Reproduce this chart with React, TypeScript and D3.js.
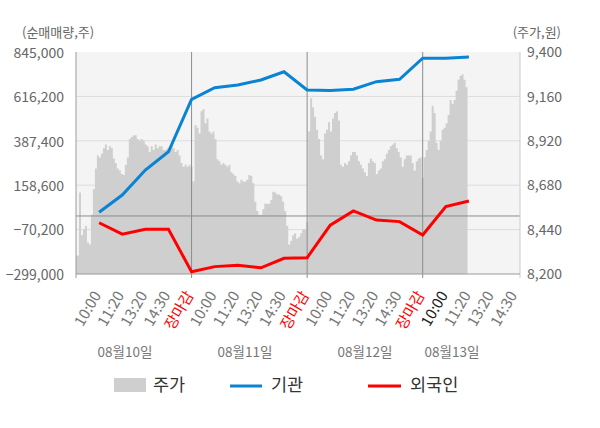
import { useEffect, useRef } from 'react';
import * as d3 from 'd3';

// x-axis tick labels (one per line point slot)
const timeLabels = [
  '10:00', '11:20', '13:20', '14:30', '장마감',
  '10:00', '11:20', '13:20', '14:30', '장마감',
  '10:00', '11:20', '13:20', '14:30', '장마감',
  '10:00', '11:20', '13:20', '14:30',
];
const dayLabels = ['08월10일', '08월11일', '08월12일', '08월13일'];

const leftTicks = [845000, 616200, 387400, 158600, -70200, -299000];
const rightTicks = [9400, 9160, 8920, 8680, 8440, 8200];

// net buying (shares), one value per slot 1..17
const institution = [
  19000, 108000, 237000, 331000, 601000,
  661000, 675000, 701000, 743000, 649000,
  647000, 653000, 692000, 704000, 813000,
  813000, 819000,
];
const foreign = [
  -35000, -94000, -69000, -69000, -287000,
  -261000, -254000, -267000, -218000, -215000,
  -47000, 26000, -21000, -29000, -98000,
  48000, 77000,
];

// intraday price (won)
const priceDay1 = [
  8300, 8640, 8410, 8440, 8460, 8370, 8360, 8520, 8660, 8770,
  8840, 8830, 8850, 8880, 8900, 8870, 8890, 8880, 8825, 8800,
  8770, 8760, 8740, 8735, 8790, 8830, 8930, 8940, 8950, 8950,
  8930, 8920, 8930, 8920, 8900, 8890, 8860, 8890, 8870, 8900,
  8880, 8890, 8890, 8870, 8870, 8880, 8870, 8890, 8880, 8860,
  8870, 8840, 8800, 8780, 8790, 8780, 8790, 8780,
];
const priceDay2 = [
  8700, 9005, 8990, 8960, 9080, 9090, 9015, 9040, 8970, 8960,
  8970, 8930, 8820, 8810, 8790, 8800, 8790, 8780, 8790, 8750,
  8740, 8730, 8700, 8690, 8710, 8700, 8700, 8710, 8735, 8730,
  8690, 8590, 8540, 8520, 8520, 8550, 8580, 8580, 8580, 8600,
  8645, 8640, 8630, 8630, 8620, 8590, 8540, 8460, 8360, 8380,
  8410, 8420, 8390, 8400, 8420, 8440, 8440, 8480,
];
const priceDay3 = [
  8970, 9150, 9100, 9050, 8980, 8930, 8840, 8820, 8960, 8980,
  9020, 8970, 9040, 9070, 9080, 9030, 8790, 8780, 8800, 8790,
  8810, 8840, 8860, 8860, 8840, 8810, 8790, 8770, 8750, 8730,
  8800, 8825, 8810, 8800, 8740, 8760, 8770, 8810, 8820, 8850,
  8870, 8890, 8900, 8910, 8880, 8860, 8830, 8780, 8820, 8840,
  8840, 8840, 8800, 8760, 8810, 8825, 8830, 8720,
];
const priceDay4 = [
  8830, 8870, 8920, 8970, 9110, 9070, 8910, 8870, 8920, 8980,
  8990, 9015, 9060, 9140, 9120, 9140, 9190, 9250, 9270, 9280,
  9250, 9210,
];

const SAMPLES_PER_DAY = 58;
const SLOTS_PER_DAY = 5;

const App = () => {
  const svgRef = useRef<SVGSVGElement | null>(null);

  useEffect(() => {
    const width = 600;
    const height = 428;
    const left = 76;
    const right = 520;
    const top = 52;
    const bottom = 274;
    const font = '"Noto Sans CJK KR", "Noto Sans", sans-serif';

    const svg = d3.select(svgRef.current);
    svg.selectAll('*').remove();
    svg.attr('width', width).attr('height', height);

    svg.append('rect').attr('width', width).attr('height', height).attr('fill', '#fff');

    const x = d3.scaleLinear().domain([0, 15]).range([left, 422.7]);
    const yL = d3.scaleLinear().domain([-299000, 845000]).range([bottom, top]);
    const yR = d3.scaleLinear().domain([8200, 9400]).range([bottom, top]);

    // plot background
    svg.append('rect')
      .attr('x', left).attr('y', top)
      .attr('width', right - left).attr('height', bottom - top)
      .attr('fill', '#f4f4f4');

    // gridlines
    svg.append('g')
      .selectAll('line')
      .data(leftTicks.slice(1, -1))
      .enter()
      .append('line')
      .attr('x1', left).attr('x2', right)
      .attr('y1', d => yL(d)).attr('y2', d => yL(d))
      .attr('stroke', '#dcdcdc')
      .attr('stroke-width', 1);

    // price area
    const days = [priceDay1, priceDay2, priceDay3, priceDay4];
    const pricePoints: { s: number; v: number }[] = [];
    days.forEach((arr, di) => {
      arr.forEach((v, j) => {
        pricePoints.push({ s: di * SLOTS_PER_DAY + (j + 0.5) * SLOTS_PER_DAY / SAMPLES_PER_DAY, v });
      });
    });
    const area = d3.area<{ s: number; v: number }>()
      .x(d => x(d.s))
      .y0(bottom)
      .y1(d => yR(d.v))
      .curve(d3.curveStepAfter);
    const last = pricePoints[pricePoints.length - 1];
    const areaData = [{ s: 0, v: pricePoints[0].v }, ...pricePoints, { s: last.s + SLOTS_PER_DAY / SAMPLES_PER_DAY, v: last.v }];
    svg.append('path')
      .attr('d', area(areaData) as string)
      .attr('fill', '#cfcfcf');

    // day separators
    [5, 10, 15].forEach(s => {
      svg.append('line')
        .attr('x1', x(s)).attr('x2', x(s))
        .attr('y1', top).attr('y2', bottom + 4)
        .attr('stroke', '#8c8c8c').attr('stroke-width', 1);
    });

    // zero line
    svg.append('line')
      .attr('x1', left).attr('x2', right)
      .attr('y1', yL(0)).attr('y2', yL(0))
      .attr('stroke', '#8c8c8c').attr('stroke-width', 1);

    // axes lines
    svg.append('line')
      .attr('x1', left).attr('x2', left).attr('y1', top).attr('y2', bottom + 4)
      .attr('stroke', '#9a9a9a');
    svg.append('line')
      .attr('x1', right).attr('x2', right).attr('y1', top).attr('y2', bottom + 4)
      .attr('stroke', '#cccccc');
    svg.append('line')
      .attr('x1', left).attr('x2', right).attr('y1', bottom).attr('y2', bottom)
      .attr('stroke', '#9a9a9a');

    // lines
    const line = d3.line<number>()
      .x((_, i) => x(i + 1))
      .y(d => yL(d));
    svg.append('path')
      .attr('d', line(institution) as string)
      .attr('fill', 'none')
      .attr('stroke', '#0a84d2')
      .attr('stroke-width', 3);
    svg.append('path')
      .attr('d', line(foreign) as string)
      .attr('fill', 'none')
      .attr('stroke', '#ff0000')
      .attr('stroke-width', 3);

    // left tick labels
    svg.append('g')
      .selectAll('text')
      .data(leftTicks)
      .enter()
      .append('text')
      .attr('x', 64)
      .attr('y', d => yL(d) + 2)
      .attr('text-anchor', 'end')
      .attr('dominant-baseline', 'middle')
      .style('font-family', font)
      .style('font-size', '14px')
      .style('fill', '#666')
      .text(d => d3.format(',')(d));

    // right tick labels
    svg.append('g')
      .selectAll('text')
      .data(rightTicks)
      .enter()
      .append('text')
      .attr('x', 527)
      .attr('y', d => yR(d) + 1.5)
      .attr('text-anchor', 'start')
      .attr('dominant-baseline', 'middle')
      .style('font-family', font)
      .style('font-size', '14px')
      .style('fill', '#666')
      .text(d => d3.format(',')(d));

    // axis titles
    svg.append('text')
      .attr('x', 22).attr('y', 33)
      .attr('dominant-baseline', 'middle')
      .style('font-family', font).style('font-size', '13px').style('fill', '#666')
      .text('(순매매량,주)');
    svg.append('text')
      .attr('x', 561).attr('y', 33)
      .attr('text-anchor', 'end')
      .attr('dominant-baseline', 'middle')
      .style('font-family', font).style('font-size', '13px').style('fill', '#666')
      .text('(주가,원)');

    // time labels
    svg.append('g')
      .selectAll('text')
      .data(timeLabels)
      .enter()
      .append('text')
      .attr('transform', (_, i) => `translate(${x(i + 1) + 2.5}, 295) rotate(-60)`)
      .attr('text-anchor', 'end')
      .style('font-family', font)
      .style('font-size', '15px')
      .style('fill', (d, i) => (d === '장마감' ? '#ff0000' : i === 15 ? '#222' : '#777'))
      .text(d => d);

    // date labels
    const dateX = [125, 245, 365, 452];
    svg.append('g')
      .selectAll('text')
      .data(dayLabels)
      .enter()
      .append('text')
      .attr('x', (_, i) => dateX[i])
      .attr('y', 353)
      .attr('text-anchor', 'middle')
      .attr('dominant-baseline', 'middle')
      .style('font-family', font)
      .style('font-size', '13.5px')
      .style('fill', '#777')
      .text(d => d);

    // legend
    const legend = svg.append('g');
    legend.append('rect')
      .attr('x', 114).attr('y', 378).attr('width', 32).attr('height', 14)
      .attr('fill', '#cfcfcf');
    legend.append('line')
      .attr('x1', 230).attr('x2', 262).attr('y1', 386).attr('y2', 386)
      .attr('stroke', '#0a84d2').attr('stroke-width', 3);
    legend.append('line')
      .attr('x1', 368).attr('x2', 401).attr('y1', 386).attr('y2', 386)
      .attr('stroke', '#ff0000').attr('stroke-width', 3);
    const legendText = [
      { label: '주가', x: 153 },
      { label: '기관', x: 271 },
      { label: '외국인', x: 410 },
    ];
    legendText.forEach(t => {
      legend.append('text')
        .attr('x', t.x).attr('y', 386)
        .attr('dominant-baseline', 'middle')
        .style('font-family', font)
        .style('font-size', '17.5px')
        .style('fill', '#333')
        .text(t.label);
    });
  }, []);

  return (
    <svg ref={svgRef} style={{ position: 'absolute', left: 0, top: 0 }}></svg>
  );
};

export default App;
